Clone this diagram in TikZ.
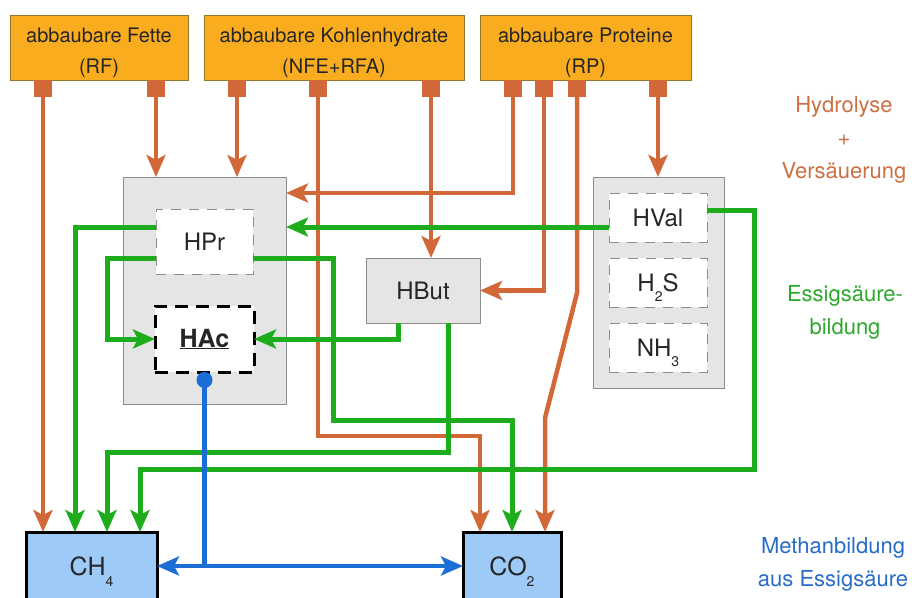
\documentclass[tikz,border=0pt]{standalone}
\usepackage{fontspec}
\setmainfont{TeX Gyre Heros}
\usetikzlibrary{arrows.meta,calc}
\definecolor{boxorange}{RGB}{248,172,30}
\definecolor{boxorangeD}{RGB}{150,118,40}
\definecolor{lineorange}{RGB}{210,104,56}
\definecolor{linegreen}{RGB}{28,172,28}
\definecolor{lineblue}{RGB}{26,110,214}
\definecolor{fillblue}{RGB}{158,202,247}
\definecolor{greyfill}{RGB}{229,229,229}
\definecolor{greyline}{RGB}{140,140,140}
\definecolor{txtorange}{RGB}{204,112,68}
\definecolor{txtgreen}{RGB}{45,168,45}
\definecolor{txtblue}{RGB}{40,108,200}
\newcommand{\lowsub}[2][-10pt]{\raisebox{#1}[0pt][0pt]{\fontsize{14}{14}\selectfont #2}}
\begin{document}
\begin{tikzpicture}[x=1pt,y=-1pt,
  every node/.style={outer sep=0pt, inner sep=0pt},
  >={Stealth[length=22pt,width=19pt,inset=5pt]},
  topbox/.style={rectangle, fill=boxorange, draw=boxorangeD, line width=0.8pt, minimum height=65pt},
  toptext/.style={align=center, font=\fontsize{20}{31}\selectfont, text=black!85},
  portbox/.style={rectangle, fill=lineorange, minimum width=18pt, minimum height=17pt},
  greybox/.style={rectangle, fill=greyfill, draw=greyline, line width=1pt},
  subbox/.style={rectangle, fill=white, draw=greyline, line width=1pt, dash pattern=on 10pt off 8pt, minimum width=98pt, font=\fontsize{24}{24}\selectfont, text=black!85},
  hacbox/.style={rectangle, fill=white, draw=black, line width=3pt, dash pattern=on 13pt off 8pt, minimum width=99pt, minimum height=66pt, font=\fontsize{25}{25}\selectfont\bfseries, text=black!85},
  midbox/.style={rectangle, fill=greyfill, draw=greyline, line width=1pt, font=\fontsize{24}{24}\selectfont, text=black!85},
  gasbox/.style={rectangle, fill=fillblue, draw=black, line width=3pt, minimum height=68pt, font=\fontsize{25}{25}\selectfont, text=black!85},
  sidetext/.style={align=center, font=\fontsize{22}{33}\selectfont},
  oline/.style={draw=lineorange, line width=4.5pt},
  gline/.style={draw=linegreen, line width=5pt},
  bline/.style={draw=lineblue, line width=4.5pt}
]
\path[use as bounding box] (0,0) rectangle (912,597);
\clip (0,0) rectangle (912,597);

% top boxes
\node[topbox, minimum width=178pt] (fette) at (99,47.5) {};
\node[topbox, minimum width=260pt] (kohlen) at (334,47.5) {};
\node[topbox, minimum width=211pt] (prot) at (585.5,47.5) {};
\node[toptext] (fettelbl) at (99,52.4) {abbaubare Fette\\(RF)};
\node[toptext] (kohlenlbl) at (334,52.4) {abbaubare Kohlenhydrate\\(NFE+RFA)};
\node[toptext] (protlbl) at (585.5,52.4) {abbaubare Proteine\\(RP)};

% ports
\node[portbox] (f1) at (43,88.5) {};
\node[portbox] (f2) at (156,88.5) {};
\node[portbox] (k1) at (237,88.5) {};
\node[portbox] (k2) at (318,88.5) {};
\node[portbox] (k3) at (431,88.5) {};
\node[portbox] (p1) at (513,88.5) {};
\node[portbox] (p2) at (544,88.5) {};
\node[portbox] (p3) at (577,88.5) {};
\node[portbox] (p4) at (658,88.5) {};

% grey containers
\node[greybox, minimum width=163pt, minimum height=227pt] (lgrey) at (204.5,290.5) {};
\node[greybox, minimum width=131pt, minimum height=211pt] (rgrey) at (658.5,282.5) {};

% inner boxes
\node[subbox, minimum width=97pt, minimum height=65pt] (hpr) at (204.5,241.5) {HPr};
\node[hacbox] (hac) at (204.5,339) {\underline{HAc}};
\node[midbox, minimum width=114pt, minimum height=65pt] (hbut) at (423,290.5) {HBut};
\node[subbox, minimum height=49pt] (hval) at (658,217.5) {HVal};
\node[subbox, minimum height=49pt] (h2s) at (658,282.5) {H\lowsub{2}S};
\node[subbox, minimum height=49pt] (nh3) at (658,347.5) {NH\lowsub{3}};

% gas boxes
\node[gasbox, minimum width=131pt] (ch4) at (91.5,566) {CH\lowsub[-11pt]{4}};
\node[gasbox, minimum width=98pt] (co2) at (512,566) {CO\lowsub[-11pt]{2}};

% side labels
\node[sidetext, text=txtorange] (hydro) at (844,139.4) {Hydrolyse\\+\\Versäuerung};
\node[sidetext, text=txtgreen] (essig) at (845,312) {Essigsäure-\\bildung};
\node[sidetext, text=txtblue] (methan) at (833,564) {Methanbildung\\aus Essigsäure};

% bend coordinates
\coordinate (kb) at (480,436);
\coordinate (p1b) at (513,193);
\coordinate (p3a) at (577,293);
\coordinate (p3b) at (545,418);
\coordinate (gb) at (107,300);
\coordinate (gc) at (333,420);
\coordinate (ge) at (107,452);
\coordinate (gg) at (754,469);

% orange connectors
\draw[oline,->] (f1.south) -- (f1.south |- ch4.north);
\draw[oline,->] (f2.south) -- (f2.south |- lgrey.north);
\draw[oline,->] (k1.south) -- (k1.south |- lgrey.north);
\draw[oline,->] (k2.south) |- (kb) -- (kb |- co2.north);
\draw[oline,->] (k3.south) -- (k3.south |- hbut.north);
\draw[oline,->] (p1.south) -- (p1b) -- (p1b -| lgrey.east);
\draw[oline,->] (p2.south) |- (hbut.east);
\draw[oline,->] (p3.south) -- (p3a) -- (p3b) -- (p3b |- co2.north);
\draw[oline,->] (p4.south) -- (p4.south |- rgrey.north);

% green connectors
\draw[gline,->] (hpr.west |- 0,227) -| ([xshift=-16.5pt]ch4.north);
\draw[gline,->] (hpr.west |- 0,258) -| (gb) |- (hac.west);
\draw[gline,->] (hpr.east |- 0,258) -| (gc) -| (co2.north);
\draw[gline,->] ([xshift=-25pt]hbut.south) |- (hac.east);
\draw[gline,->] ([xshift=25pt]hbut.south) |- (ge) -- (ge |- ch4.north);
\draw[gline,->] (hval.west |- 0,227) -- (lgrey.east |- 0,227);
\draw[gline,->] (hval.east |- 0,210) -| (gg) -| ([xshift=48.5pt]ch4.north);

% blue connectors
\draw[bline,{Circle[length=16pt]}-] (hac.south) -- (hac.south |- ch4.east);
\draw[bline,<->] (ch4.east) -- (co2.west);
\end{tikzpicture}
\end{document}
